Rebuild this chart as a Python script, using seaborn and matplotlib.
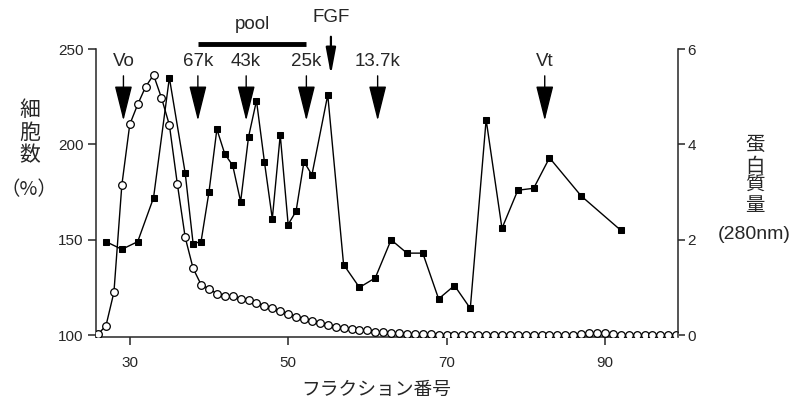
import numpy as np
import seaborn as sns
from matplotlib import pyplot as plt

# fraction numbers and cell count (%) - filled squares, left axis
cell_fraction = [27, 29, 31, 33, 35, 37, 38, 39, 40, 41, 42, 43, 44, 45, 46, 47, 48, 49, 50,
                 51, 52, 53, 55, 57, 59, 61, 63, 65, 67, 69, 71, 73, 75, 77, 79, 81, 83, 87, 92]
cell_count = [149, 145, 149, 172, 235, 185, 148, 149, 175, 208, 195, 189, 170, 204, 223, 191, 161, 205, 158,
              165, 191, 184, 226, 137, 125, 130, 150, 143, 143, 119, 126, 114, 213, 156, 176, 177, 193, 173, 155]

# protein amount (280nm) - open circles, right axis, one per fraction 26..99
protein_fraction = list(range(26, 100))
protein = [0.02, 0.20, 0.90, 3.15, 4.42, 4.84, 5.21, 5.46, 4.98, 4.41,
           3.18, 2.05, 1.40, 1.06, 0.97, 0.87, 0.82, 0.82, 0.76, 0.73,
           0.68, 0.61, 0.56, 0.50, 0.44, 0.39, 0.34, 0.30, 0.25, 0.21,
           0.18, 0.15, 0.12, 0.11, 0.11, 0.07, 0.06, 0.05, 0.04, 0.02,
           0.02, 0.03, 0.03, 0.01, 0.01, 0.01, 0.01, 0.01, 0.01, 0.01,
           0.01, 0.01, 0.01, 0.01, 0.01, 0.01, 0.01, 0.01, 0.01, 0.01,
           0.01, 0.03, 0.04, 0.05, 0.04, 0.02, 0.01, 0.01, 0.01, 0.01,
           0.01, 0.01, 0.01, 0.01]

# markers along the top
marker_labels = ["Vo", "67k", "43k", "25k", "13.7k", "Vt"]
marker_pos = [29.2, 38.6, 44.7, 52.3, 61.3, 82.4]
fgf_pos = 55.4
pool_range = (38.6, 52.3)

sns.set_style("ticks")
plt.rcParams['font.family'] = ['Liberation Sans', 'Noto Sans CJK JP']

fig = plt.figure(figsize=(7.93, 4.13), dpi=100)
ax = fig.add_axes([0.121, 0.184, 0.734, 0.697])
ax2 = ax.twinx()

sns.lineplot(x=cell_fraction, y=cell_count, ax=ax, color="black", linewidth=1,
             marker="s", markersize=4.5, markeredgecolor="black", markerfacecolor="black")
sns.lineplot(x=protein_fraction, y=protein, ax=ax2, color="black", linewidth=1,
             marker="o", markersize=5.5, markeredgecolor="black", markerfacecolor="white",
             markeredgewidth=0.9)

ax.set_xlim(25.73, 99.23)
ax.set_ylim(99, 250)
ax2.set_ylim(-0.04, 6)
ax.set_xticks([30, 50, 70, 90])
ax.set_yticks([100, 150, 200, 250])
ax2.set_yticks([0, 2, 4, 6])

for a in (ax, ax2):
    a.spines["top"].set_visible(False)
    for s in a.spines.values():
        s.set_linewidth(1.1)
ax.spines["right"].set_visible(False)
ax2.spines["left"].set_visible(False)
ax2.spines["bottom"].set_visible(False)

ax.tick_params(axis="y", length=6, width=1.1, pad=3, labelsize=11)
ax.tick_params(axis="x", length=6, width=1.1, pad=8, labelsize=11)
ax2.tick_params(axis="y", length=5, width=1.1, pad=2, labelsize=11)

# arrows for the size markers
for lab, xp in zip(marker_labels, marker_pos):
    ax.annotate("", xy=(xp, 212.5), xytext=(xp, 236),
                arrowprops=dict(arrowstyle="-|>,head_length=2.2,head_width=0.55",
                                color="black", lw=1, shrinkA=0, shrinkB=0, mutation_scale=10))
    ax.text(xp, 243.5, lab, ha="center", va="center", fontsize=13.5)

# FGF arrow and pool bar above the axes
ax.annotate("", xy=(fgf_pos, 236.5), xytext=(fgf_pos, 256.5), annotation_clip=False,
            arrowprops=dict(arrowstyle="-|>,head_length=1.6,head_width=0.3",
                            color="black", lw=1.6, shrinkA=0, shrinkB=0, mutation_scale=10))
ax.text(fgf_pos, 266.5, "FGF", ha="center", va="center", fontsize=13.5, clip_on=False)
ax.plot(pool_range, [252.6, 252.6], color="black", linewidth=3.5, clip_on=False,
        solid_capstyle="butt")
ax.text(np.mean(pool_range), 263, "pool", ha="center", va="center", fontsize=13.5, clip_on=False)

ax.set_xlabel("")
fig.text(0.475, 0.055, "フラクション番号", ha="center", va="center", fontsize=13.5)
fig.text(0.038, 0.678, "細\n胞\n数", ha="center", va="center", fontsize=15, linespacing=1.2)
fig.text(0.036, 0.542, "（%）", ha="center", va="center", fontsize=14,
         family=['Noto Sans CJK JP'])
fig.text(0.952, 0.574, "蛋\n白\n質\n量", ha="center", va="center", fontsize=14, linespacing=1.2)
fig.text(0.951, 0.431, "(280nm)", ha="center", va="center", fontsize=14)

fig.savefig("out.png", dpi=100)
